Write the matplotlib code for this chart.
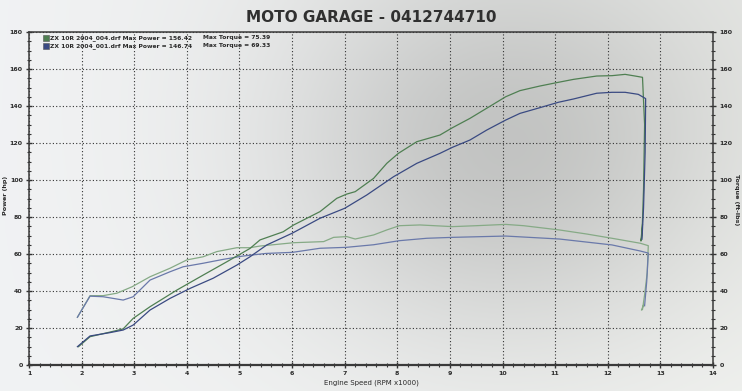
import numpy as np
import matplotlib
matplotlib.use("Agg")
import matplotlib.pyplot as plt
from matplotlib.patches import Rectangle
from matplotlib.ticker import MultipleLocator

# ---------------- data ----------------
title = "MOTO GARAGE - 0412744710"
legend_files = ["ZX 10R 2004_004.drf", "ZX 10R 2004_001.drf"]
max_power = [156.42, 146.74]
max_torque = [75.39, 69.33]

rpm_p004 = [1.94, 2.16, 2.54, 2.79, 2.98, 3.3, 3.81, 4.31, 4.76, 5.2, 5.39, 5.83, 6.03,
            6.53, 6.85, 7.04, 7.2, 7.55, 7.8, 8.02, 8.37, 8.81, 9.05, 9.38, 9.7, 10.06,
            10.33, 10.71, 11.06, 11.35, 11.79, 12.08, 12.33, 12.52, 12.66, 12.70, 12.68,
            12.65, 12.63, 12.66]
pow_p004 = [9.9, 15.3, 17.8, 19.5, 25.2, 31.5, 40.5, 48.6, 55.8, 63.0, 67.6, 72.0, 75.7,
            82.9, 90.1, 92.4, 93.7, 100.9, 109.0, 114.4, 120.7, 124.3, 128.3, 133.3, 138.8,
            145.0, 148.3, 150.8, 152.8, 154.4, 156.2, 156.4, 157.1, 156.2, 155.5, 130.0,
            95.0, 70.0, 67.0, 76.0]

rpm_p001 = [1.92, 2.16, 2.54, 2.79, 2.98, 3.3, 3.68, 4.06, 4.5, 4.95, 5.2, 5.52, 6.0,
            6.53, 7.0, 7.42, 7.93, 8.37, 8.81, 9.05, 9.38, 9.7, 10.06, 10.33, 10.71,
            11.06, 11.35, 11.79, 12.08, 12.33, 12.58, 12.72, 12.71, 12.68, 12.65]
pow_p001 = [9.9, 15.7, 17.5, 18.9, 21.6, 29.7, 36.0, 41.4, 46.9, 54.0, 58.5, 64.9, 71.2,
            79.3, 84.7, 91.9, 101.8, 109.0, 114.4, 117.7, 121.6, 127.0, 132.4, 136.0,
            139.1, 142.0, 143.8, 146.9, 147.4, 147.4, 146.3, 144.0, 115.0, 85.0, 68.0]

rpm_t004 = [1.92, 2.16, 2.41, 2.67, 2.96, 3.3, 3.68, 4.0, 4.31, 4.57, 4.95, 5.2, 5.39,
            6.03, 6.6, 6.79, 7.04, 7.2, 7.55, 7.8, 8.04, 8.43, 9.05, 9.5, 10.06, 10.4,
            11.08, 11.6, 12.08, 12.62, 12.77, 12.75, 12.70, 12.66, 12.64, 12.68]
trq_t004 = [25.8, 37.5, 37.5, 38.8, 42.3, 47.7, 52.3, 56.8, 58.5, 61.3, 63.4, 63.4, 64.3,
            66.1, 66.7, 69.0, 69.4, 68.1, 70.3, 73.0, 75.3, 75.7, 74.8, 75.3, 76.0, 75.3,
            73.0, 70.8, 68.5, 65.8, 64.5, 50.0, 38.0, 30.0, 29.7, 32.4]

rpm_t001 = [1.92, 2.16, 2.41, 2.79, 2.98, 3.3, 3.68, 3.93, 4.31, 4.69, 5.07, 5.5, 6.01,
            6.53, 7.03, 7.55, 8.04, 8.56, 9.05, 10.06, 11.08, 12.08, 12.62, 12.77, 12.74,
            12.70]
trq_t001 = [25.8, 37.2, 36.9, 35.1, 36.9, 45.9, 50.4, 53.1, 55.0, 57.1, 58.9, 60.3, 60.9,
            63.1, 63.6, 65.0, 67.2, 68.5, 69.0, 69.7, 68.1, 64.9, 61.6, 60.5, 45.0, 32.0]

x_ticks = list(range(1, 15))
y_ticks = list(range(0, 181, 20))

# ---------------- styling ----------------
c_green_p = "#4f7f52"
c_green_t = "#86aa86"
c_blue_p = "#3a4a82"
c_blue_t = "#6a79aa"
txt = "#2a2a2a"

fig = plt.figure(figsize=(7.42, 3.91), dpi=100)

# photographic paper background (gradient)
bg = fig.add_axes([0, 0, 1, 1], zorder=-10)
gx, gy = np.meshgrid(np.linspace(0, 1, 300), np.linspace(0, 1, 160))
shade = 0.95 - 0.17 * np.exp(-((gx - 0.68) ** 2) / 0.09 - ((gy - 0.62) ** 2) / 0.25)
shade -= 0.03 * gx * gy
rgb = np.dstack([shade - 0.005, shade, shade - 0.01 + 0.015 * (1 - gx)])
bg.imshow(np.clip(rgb, 0, 1), aspect="auto", extent=[0, 1, 0, 1], origin="lower")
bg.axis("off")

ax = fig.add_axes([29 / 742, 26 / 391, 684 / 742, 333 / 391])
ax.patch.set_alpha(0)
ax.set_xlim(1, 14)
ax.set_ylim(0, 180)

ax.plot(rpm_t004, trq_t004, color=c_green_t, lw=0.9, zorder=3)
ax.plot(rpm_t001, trq_t001, color=c_blue_t, lw=0.9, zorder=3)
ax.plot(rpm_p004, pow_p004, color=c_green_p, lw=0.9, zorder=3)
ax.plot(rpm_p001, pow_p001, color=c_blue_p, lw=0.9, zorder=3)

ax.set_xticks(x_ticks)
ax.set_yticks(y_ticks)
ax.xaxis.set_minor_locator(MultipleLocator(0.2))
ax.yaxis.set_minor_locator(MultipleLocator(5))
ax.grid(True, which="major", linestyle=(0, (1, 2)), color="#333333", lw=0.8)
ax.tick_params(axis="both", which="major", direction="inout", length=5, width=1,
               color="#333333", labelsize=4.5, labelcolor=txt, pad=2,
               right=True, labelright=True)
ax.tick_params(axis="both", which="minor", direction="inout", length=3, width=0.8,
               color="#333333", right=True)
for lab in ax.get_xticklabels() + ax.get_yticklabels():
    lab.set_fontweight("bold")
for sp in ax.spines.values():
    sp.set_color("#3a3a3a")
    sp.set_linewidth(1.1)
ax.spines["bottom"].set_linewidth(1.6)

ax.set_xlabel("Engine Speed (RPM x1000)", fontsize=5, color=txt, labelpad=2)
fig.text(5.5 / 742, 0.50, "Power (hp)", rotation=90, fontsize=4.6,
         fontweight="bold", color=txt, ha="center", va="center")
fig.text(736 / 742, 0.49, "Torque (ft-lbs)", rotation=-90, fontsize=4.6,
         fontweight="bold", color=txt, ha="center", va="center")

fig.text(0.5, 0.955, title, fontsize=11, fontweight="bold", color="#303030",
         ha="center", va="center")

# legend block
sq_colors = [c_green_p, c_blue_p]
ys = [0.982, 0.958]
for i in range(2):
    ax.add_patch(Rectangle((0.021, ys[i] - 0.009), 0.008, 0.018, transform=ax.transAxes,
                           facecolor=sq_colors[i], edgecolor="#555555", lw=0.4,
                           clip_on=False, zorder=5))
    ax.text(0.031, ys[i], f"{legend_files[i]} Max Power = {max_power[i]:.2f}",
            transform=ax.transAxes, fontsize=4.3, fontweight="bold", color=txt,
            va="center", ha="left")
    ax.text(0.254, ys[i], f"Max Torque = {max_torque[i]:.2f}",
            transform=ax.transAxes, fontsize=4.3, fontweight="bold", color=txt,
            va="center", ha="left")

fig.savefig("out.png", dpi=100)
